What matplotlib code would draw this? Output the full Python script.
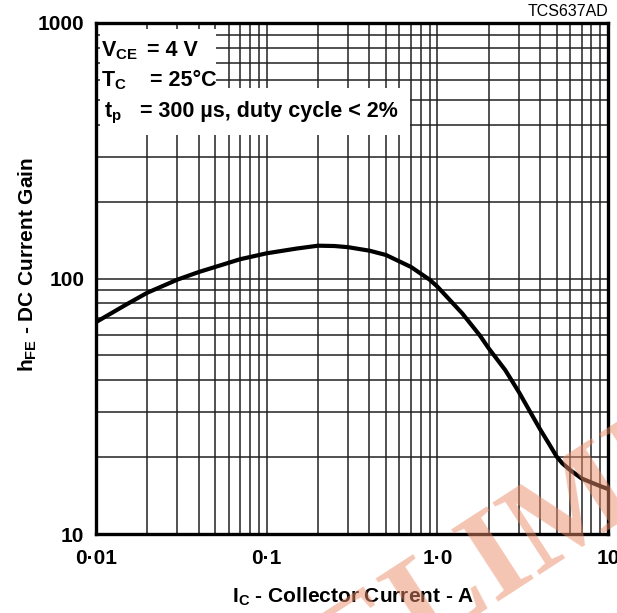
import matplotlib
matplotlib.use("Agg")
import matplotlib.pyplot as plt
from matplotlib.patches import Rectangle
import numpy as np

# Data
ic_amps = [0.01, 0.015, 0.02, 0.03, 0.04, 0.05, 0.07, 0.1, 0.15, 0.2, 0.25, 0.3,
           0.4, 0.5, 0.7, 0.9, 1.0, 1.4, 1.77, 2.0, 2.5, 3.0, 4.0, 4.5, 5.0, 5.4,
           6.0, 7.0, 8.0, 9.0, 10.0]
hfe = [67.5, 79, 88, 99, 106, 111, 119, 125.5, 131, 134.4, 134, 132.6,
       128.5, 123.6, 111, 99, 93, 73, 60, 53.3, 43.8, 36, 25.7, 22.6, 20.1, 18.9,
       17.8, 16.5, 15.9, 15.4, 15.0]

x_ticks = [0.01, 0.1, 1.0, 10]
x_tick_labels = ["0·01", "0·1", "1·0", "10"]
y_ticks = [10, 100, 1000]
y_tick_labels = ["10", "100", "1000"]

plt.rcParams['font.family'] = ['Liberation Sans', 'DejaVu Sans']
plt.rcParams['mathtext.fontset'] = 'custom'
plt.rcParams['mathtext.bf'] = 'Liberation Sans:bold'
plt.rcParams['mathtext.rm'] = 'Liberation Sans'

W, H = 617, 613
fig = plt.figure(figsize=(W / 100, H / 100), dpi=100)
L, R, T, B = 96, 608, 23, 534
ax = fig.add_axes([L / W, 1 - B / H, (R - L) / W, (B - T) / H])

ax.set_xscale('log')
ax.set_yscale('log')
ax.set_xlim(0.01, 10)
ax.set_ylim(10, 1000)

ax.grid(True, which='both', color='#222222', linewidth=1.1, zorder=1)
ax.set_axisbelow(True)
ax.plot(ic_amps, hfe, color='black', linewidth=3.0, zorder=5,
        solid_capstyle='butt', solid_joinstyle='round')

ax.set_xticks(x_ticks)
ax.set_xticklabels(x_tick_labels, fontsize=15, fontweight='bold')
ax.set_yticks(y_ticks)
ax.set_yticklabels(y_tick_labels, fontsize=15, fontweight='bold')
ax.tick_params(which='both', length=0)
ax.tick_params(axis='x', pad=11)
ax.tick_params(axis='y', pad=8.5)
for s in ax.spines.values():
    s.set_linewidth(2.4)
    s.set_zorder(6)

# white boxes behind annotation text
def px_rect(x0, y0, x1, y1):
    return Rectangle((x0 / W, 1 - y1 / H), (x1 - x0) / W, (y1 - y0) / H,
                     transform=fig.transFigure, facecolor='white', edgecolor='none',
                     zorder=3)

ax.add_patch(px_rect(100, 29, 216, 89))
ax.add_patch(px_rect(100, 88, 410, 135))

def ftext(x, y, s, **kw):
    return fig.text(x / W, 1 - y / H, s, **kw)

fs = 15.5
ftext(101, 56, r"V$_{\mathbf{CE}}$", fontsize=fs, fontweight='bold', va='baseline', zorder=7)
ftext(147, 56, "= 4 V", fontsize=fs, fontweight='bold', va='baseline', zorder=7)
ftext(101, 86, r"T$_{\mathbf{C}}$", fontsize=fs, fontweight='bold', va='baseline', zorder=7)
ftext(150, 86, "= 25°C", fontsize=fs, fontweight='bold', va='baseline', zorder=7)
ftext(104, 117, r"t$_{\mathbf{p}}$", fontsize=fs, fontweight='bold', va='baseline', zorder=7)
ftext(140, 117, "= 300 µs, duty cycle < 2%", fontsize=fs, fontweight='bold', va='baseline', zorder=7)

ftext(353, 597, r"I$_{\mathbf{C}}$ - Collector Current - A", fontsize=15,
      fontweight='bold', ha='center', va='center')
ftext(28, 265, r"h$_{\mathbf{FE}}$ - DC Current Gain", fontsize=15,
      fontweight='bold', ha='center', va='center', rotation=90)
ftext(608, 12, "TCS637AD", fontsize=11.5, ha='right', va='center')

# watermark
ftext(150, 717, "PRELIMINARY", fontsize=95, fontweight='bold', family='Liberation Serif',
      color=(0.92, 0.55, 0.41), alpha=0.5, rotation=33, rotation_mode='anchor',
      ha='left', va='top', zorder=10)

fig.savefig("out.png", dpi=100)
